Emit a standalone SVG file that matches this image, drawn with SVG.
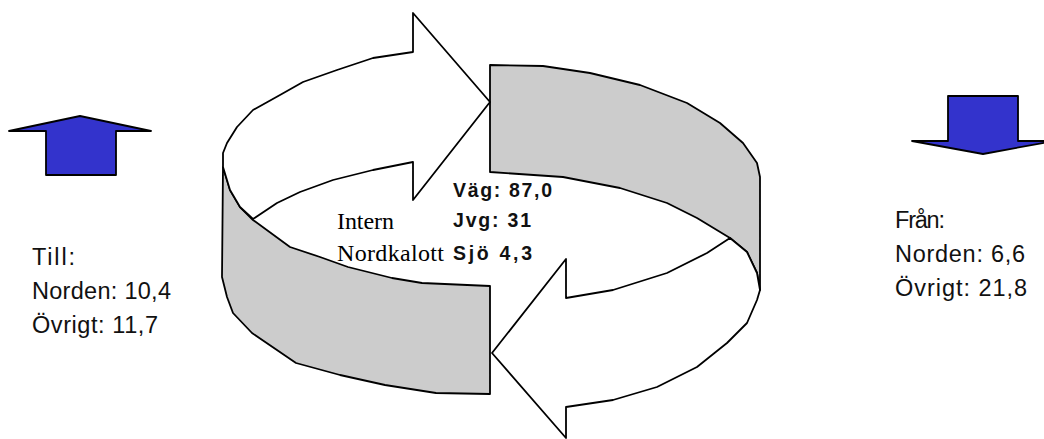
<svg xmlns="http://www.w3.org/2000/svg" width="1044" height="439" viewBox="0 0 1044 439">
<style>
.ol{stroke:#000;stroke-width:1.8;stroke-linejoin:round}
.w{fill:#fff}
.g{fill:#cccccc}
.b{fill:#3333cc}
.t{font-family:"Liberation Sans",Arial,sans-serif;font-size:23.5px;fill:#111}
.s{font-family:"Liberation Serif","Times New Roman",serif;font-size:24px;fill:#000}
.bd{font-family:"Liberation Sans",Arial,sans-serif;font-size:19.5px;font-weight:bold;fill:#111}
</style>
<rect width="1044" height="439" fill="#fff"/>
<g id="ring">
<path id="left-band" class="ol g" d="M223,167 L222,277 L227,297 L233,313 L252,333 L296,363 L340,375 L385,385 L436,393 L490,394 L490,286 L422,283 L392,278 L348,267 L320,257 L290,247 L253,220 L240,207 L230,190 Z"/>
<path id="right-band" class="ol g" d="M490,65 L543,66 L590,73 L640,85 L687,103 L720,123 L743,143 L757,163 L760,177 L760,290 L757,273 L747,252 L730,238 L697,218 L667,203 L620,188 L563,177 L490,172 Z"/>
<path id="top-arrow" class="ol w" d="M490,102 L413,200 L413,162 L373,170 L333,180 L300,192 L277,203 L253,219 L240,207 L230,190 L223,167 L223,153 L227,143 L237,127 L253,110 L280,95 L303,82 L337,70 L373,58 L413,52 L413,13 Z"/>
<path id="bottom-arrow" class="ol w" d="M492,353 L566,259 L566,298 L613,290 L667,273 L707,253 L730,238 L747,252 L757,273 L760,290 L757,300 L747,323 L727,343 L697,367 L657,387 L613,400 L566,407 L566,438 Z"/>
</g>
<g id="arrow-up">
<path class="ol b" d="M9,131 L80,116 L151,131 L116,131 L116,175 L46,175 L46,131 Z"/>
</g>
<g id="arrow-down">
<path class="ol b" d="M948,96 L1018,96 L1018,141 L1054,141 L983,154 L912,141 L948,141 Z"/>
</g>
<g id="till">
<text class="t" x="32" y="265" textLength="43" lengthAdjust="spacing">Till:</text>
<text class="t" x="32" y="299" textLength="139" lengthAdjust="spacing">Norden: 10,4</text>
<text class="t" x="32" y="333" textLength="126" lengthAdjust="spacing">Övrigt: 11,7</text>
</g>
<g id="fran">
<text class="t" x="895" y="228" textLength="50" lengthAdjust="spacing">Från:</text>
<text class="t" x="895" y="262" textLength="130" lengthAdjust="spacing">Norden: 6,6</text>
<text class="t" x="895" y="296" textLength="132" lengthAdjust="spacing">Övrigt: 21,8</text>
</g>
<g id="intern">
<text class="s" x="337" y="229" textLength="57" lengthAdjust="spacing">Intern</text>
<text class="s" x="337" y="261" textLength="107" lengthAdjust="spacing">Nordkalott</text>
<text class="bd" x="453" y="197" textLength="99" lengthAdjust="spacing">Väg: 87,0</text>
<text class="bd" x="453" y="227" textLength="78" lengthAdjust="spacing">Jvg: 31</text>
<text class="bd" x="453" y="260" textLength="79" lengthAdjust="spacing">Sjö 4,3</text>
</g>
</svg>
